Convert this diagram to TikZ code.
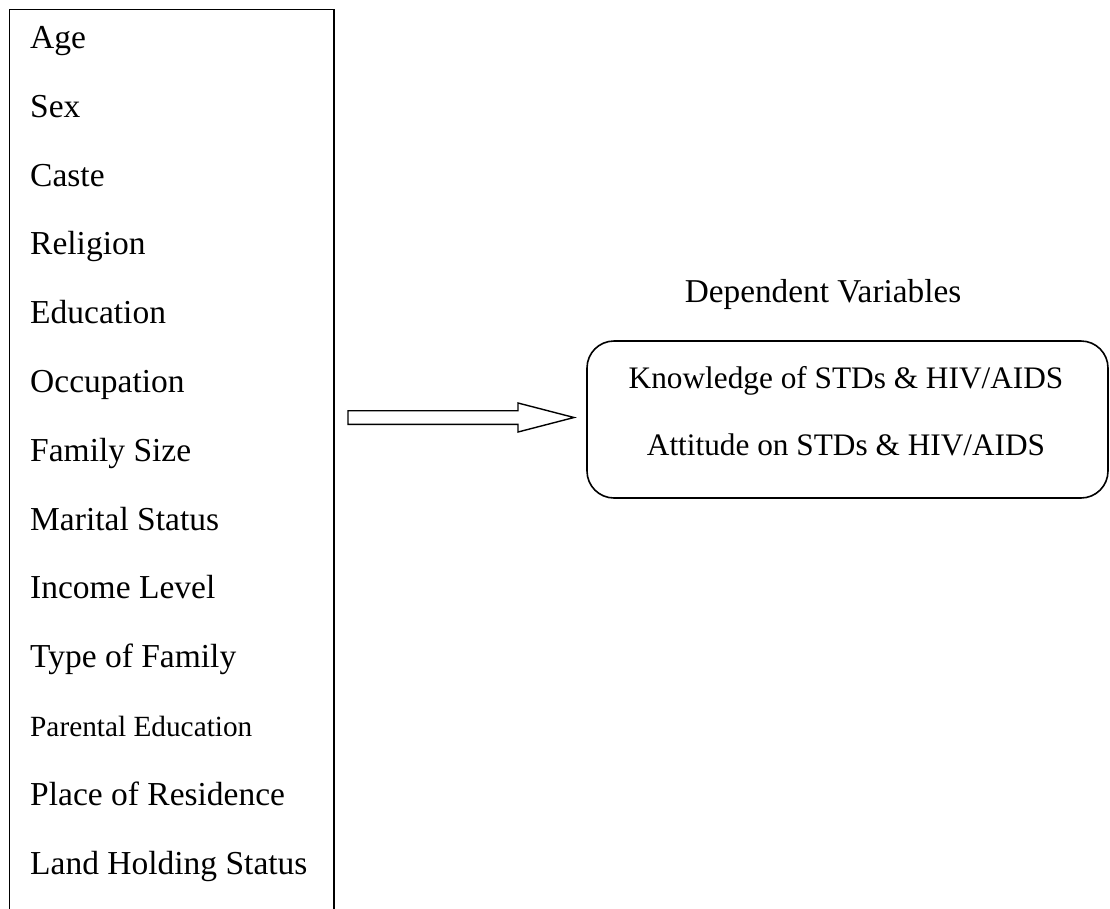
\documentclass[tikz,border=0pt]{standalone}
\usepackage{fontspec}
\setmainfont{Liberation Serif}
\begin{document}
\begin{tikzpicture}[x=1pt,y=-1pt,
  lbl/.style={anchor=base west,inner sep=0pt,font=\fontsize{33.5}{40}\selectfont},
  small/.style={anchor=base west,inner sep=0pt,font=\fontsize{29.3}{35}\selectfont},
  rtxt/.style={anchor=base,inner sep=0pt,font=\fontsize{31.3}{38}\selectfont},
  frame/.style={draw=black,line width=1.6pt},
  depbox/.style={draw=black,line width=1.6pt,rounded corners=27pt,minimum width=521pt,minimum height=157pt,inner sep=0pt}]
\useasboundingbox (0,0) rectangle (1110,908);
% left open-bottom box
\draw[frame] (9.5,910) -- (9.5,9.5) -- (334,9.5) -- (334,910);
\foreach \t [count=\i from 0] in {Age,Sex,Caste,Religion,Education,Occupation,Family Size,Marital Status,Income Level,Type of Family}
  \node[lbl] (v\i) at (30,48.4+\i*68.8) {\t};
\node[small] (v10) at (30,48.4+10*68.8) {Parental Education};
\node[lbl] (v11) at (30,48.4+11*68.8) {Place of Residence};
\node[lbl] (v12) at (30,48.4+12*68.8) {Land Holding Status};
% right
\node[anchor=base,inner sep=0pt,font=\fontsize{33.3}{40}\selectfont] (dep) at (823,302) {Dependent Variables};
\node[depbox] (box) at (847.5,419.5) {};
\node[rtxt] (k) at (846,388) {Knowledge of STDs \& HIV/AIDS};
\node[rtxt] (a) at (846,455) {Attitude on STDs \& HIV/AIDS};
% hollow arrow
\coordinate (tail) at (348,417.5);
\coordinate (tip) at (574,417.5);
\draw[frame,line width=1.4pt,line join=miter] (tail) ++(0,-6.8) -- (518,410.7) -- (518,403) -- (tip) -- (518,432) -- (518,424.3) -- (348,424.3) -- cycle;
\end{tikzpicture}
\end{document}
